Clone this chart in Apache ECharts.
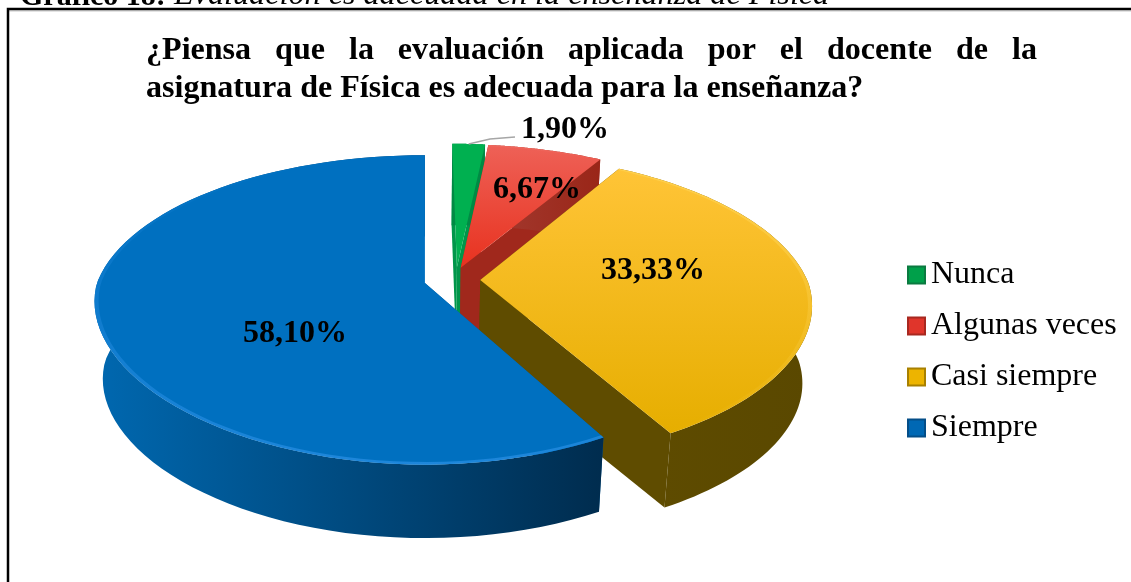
<!DOCTYPE html>
<html><head><meta charset="utf-8">
<style>html,body{margin:0;padding:0;background:#fff}#c{width:1131px;height:582px}</style>
<script src="https://cdn.jsdelivr.net/npm/echarts@6/dist/echarts.min.js"></script>
</head><body><div id="c"></div>
<script>
const categories = ['Nunca','Algunas veces','Casi siempre','Siempre'];
const values = [1.90,6.67,33.33,58.10];
const valueLabels = ['1,90%','6,67%','33,33%','58,10%'];
const titleLine1 = ['¿Piensa','que','la','evaluación','aplicada','por','el','docente','de','la'];
const titleLine2 = 'asignatura de Física es adecuada para la enseñanza?';
const caption = 'Gráfico 18: ';
const captionRest = 'Evaluación es adecuada en la enseñanza de Física';

const labelAt = [[565,130],[537,190],[653,271],[295,334]];
const FAM = 'Liberation Serif';
const FONT = '"Liberation Serif","Times New Roman",serif';
const P = {px:425, py:283, Rx:328, Ry:150, k:0.174, Ou:0.083, Ov:-0.0215, e:0.086, bs:0.975, D:78};
const nudge = [0.011,0,0,0];
const frontK = [0.12,0.12,0.145,0.12];
const skins = [
 {top:['#00B050','#00B050'], rim:['rgba(0,176,80,0)','rgba(0,176,80,0)'], inner:'#00964A', wall:['#008A44','#008A44'], legend:'#00A04A', lb:'#0B7A40'},
 {top:['#EE6157','#E8321F'], rim:['rgba(240,110,100,0.6)','rgba(240,110,100,0)'], inner:'#A0281C', wall:['#A33A30','#9A2618'], legend:'#E0352B', lb:'#A82820'},
 {top:['#FFC437','#E6AE00'], rim:['rgba(255,215,90,0.6)','rgba(255,215,90,0)'], inner:'#5F4C00', wall:['#5F4C00','#5A4800'], legend:'#EDB400', lb:'#A88000'},
 {top:['#0070C0','#0070C0'], rim:['rgba(42,144,230,0)','rgba(42,144,230,0.7)'], inner:'#005A9A', wall:['#0068B0','#002C4E'], legend:'#0068B4', lb:'#044E88'}
];
const total = values.reduce((a,b)=>a+b,0);
function pr(u,v,bottom,k2){
  const s = 1/(1-P.k*v), sx = v<0 ? s : 1/(1-k2*v);
  let X = P.px+P.Rx*u*sx, Y = P.py+P.Ry*v*s;
  if(bottom){ X = P.px+(X-P.px)*P.bs; Y = P.py+(Y-P.py)*P.bs+P.D; }
  return [X,Y];
}
function renderSlice(i){
  return function(params,api){
    const before = values.slice(0,i).reduce((a,b)=>a+b,0);
    const a0 = before/total*2*Math.PI, a1 = (before+api.value(0))/total*2*Math.PI, mid=(a0+a1)/2;
    const cu = P.Ou+P.e*Math.sin(mid)+nudge[i], cv = P.Ov-P.e*Math.cos(mid);
    const pt = (a,r,b)=>pr(cu+r*Math.sin(a), cv-r*Math.cos(a), b, frontK[i]);
    const arc = (r,b,rev)=>{const out=[],n=80;for(let j=0;j<=n;j++){const t=rev?1-j/n:j/n;out.push(pt(a0+(a1-a0)*t,r,b));}return out;};
    const sk = skins[i], lg = echarts.graphic.LinearGradient, kids=[];
    const wall = (a)=>({type:'polygon',shape:{points:[pt(a,0,false),pt(a,1,false),pt(a,1,true),pt(a,0,true)]},style:{fill:sk.inner}});
    kids.push(wall(a0),wall(a1));
    kids.push({type:'polygon',shape:{points:arc(1,false,false).concat(arc(1,true,true))},
      style:{fill:new lg(0,0,1,0,[{offset:0,color:sk.wall[0]},{offset:1,color:sk.wall[1]}])}});
    kids.push({type:'polygon',shape:{points:[pt(0,0,false)].concat(arc(1,false,false))},
      style:{fill:new lg(0,0,0,1,[{offset:0,color:sk.top[0]},{offset:1,color:sk.top[1]}])}});
    kids.push({type:'polygon',shape:{points:arc(1,false,false).concat(arc(0.988,false,true))},
      style:{fill:new lg(0,0,0,1,[{offset:0,color:sk.rim[0]},{offset:1,color:sk.rim[1]}])}});
    if(i===0){
      kids.push({type:'polyline',shape:{points:[pt(mid,1,false),[490,139],[515,137]]},style:{stroke:'#A6A6A6',lineWidth:1.5,fill:'none'}});
    }
    kids.push({type:'text',z2:100,style:{text:valueLabels[i],x:labelAt[i][0],y:labelAt[i][1],align:'center',verticalAlign:'middle',
      font:'bold 32px '+FONT,fill:'#000'}});
    return {type:'group',children:kids};
  };
}
const TFS = 32.1;
const ctx = document.createElement('canvas').getContext('2d');
ctx.font = 'bold '+TFS+'px '+FONT;
const wordsW = titleLine1.reduce((a,w)=>a+ctx.measureText(w).width,0);
const gapW = (891-wordsW)/(titleLine1.length-1);
const rich = {w:{fontFamily:FAM,fontWeight:'bold',fontSize:TFS,color:'#000'}, g:{width:gapW,fontFamily:FAM,fontWeight:'bold',fontSize:TFS}};
const line1 = titleLine1.map(w=>'{w|'+w+'}').join('{g| }');
const option = {
  animation:false,
  backgroundColor:'#fff',
  legend:{orient:'vertical',left:907,top:259,padding:0,itemWidth:17,itemHeight:17,itemGap:19,icon:'rect',
    textStyle:{fontFamily:FAM,fontSize:32,color:'#000',padding:[0,0,0,1]},
    data:categories},
  series:categories.map((name,i)=>({
    name,type:'custom',coordinateSystem:'none',
    itemStyle:{color:skins[i].legend,borderColor:skins[i].lb,borderWidth:2},
    renderItem:renderSlice(i),data:[[values[i]]],silent:true
  })),
  title:[
    {left:146,top:35,padding:0,text:line1,textStyle:{rich}},
    {left:146,top:73,padding:0,text:titleLine2,textStyle:{fontFamily:FAM,fontWeight:'bold',fontSize:TFS,color:'#000'}}
  ],
  graphic:[
    {type:'line',shape:{x1:8,y1:11,x2:1131,y2:11},style:{stroke:'#C8C8C8',lineWidth:1}},
    {type:'polyline',shape:{points:[[8,582],[8,9],[1131,9]]},style:{stroke:'#000',lineWidth:2.5,fill:'none'}},
    {type:'text',style:{text:caption,x:20,y:12,verticalAlign:'bottom',font:'bold 30px '+FONT,fill:'#000'}},
    {type:'text',style:{text:captionRest,x:174,y:12,verticalAlign:'bottom',font:'italic 32.2px '+FONT,fill:'#000'}}
  ]
};
echarts.init(document.getElementById('c'),null,{renderer:'canvas'}).setOption(option);
</script></body></html>
